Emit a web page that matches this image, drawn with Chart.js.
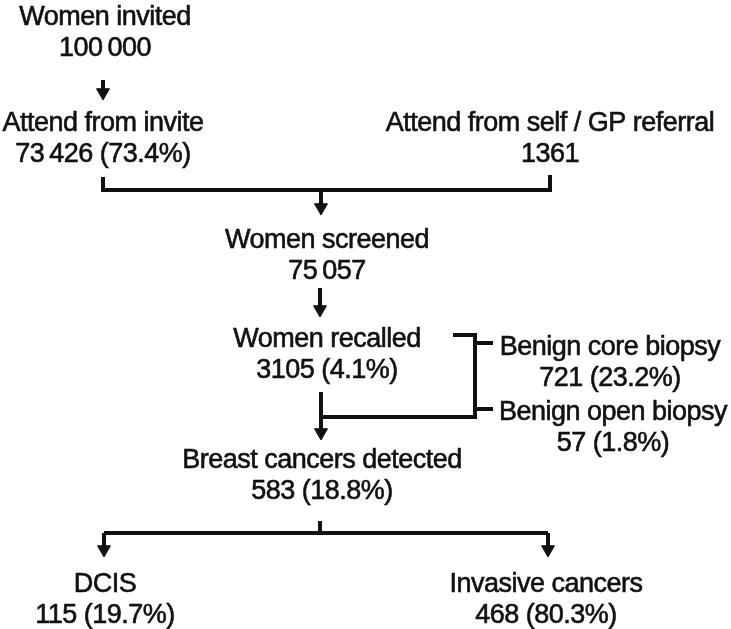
<!DOCTYPE html>
<html>
<head>
<meta charset="utf-8">
<title>Screening flow</title>
<script src="https://cdn.jsdelivr.net/npm/chart.js@4/dist/chart.umd.min.js"></script>
<style>
  html, body { margin: 0; padding: 0; background: #fff; }
  #wrap { width: 731px; height: 629px; }
</style>
</head>
<body>
<div id="wrap"><canvas id="flowChart" width="731" height="629"></canvas></div>
<script>
// data
const stages = ['Women invited', 'Attend from invite', 'Attend from self / GP referral', 'Women screened',
  'Women recalled', 'Benign core biopsy', 'Benign open biopsy', 'Breast cancers detected', 'DCIS', 'Invasive cancers'];
const counts = [100000, 73426, 1361, 75057, 3105, 721, 57, 583, 115, 468];
const percents = [null, 73.4, null, null, 4.1, 23.2, 1.8, 18.8, 19.7, 80.3];

// layout (pixel units of the 731 x 629 plot, y measured from the top)
const nodeX = [105, 103, 550, 327, 327, 610, 613, 322, 105, 546];
const nodeY = [25, 131, 131, 248, 347, 355, 420, 468, 592, 592];
const lineGap = 31;

// connectors, each one a polyline
const connectors = [
  [[103, 177], [103, 190], [550, 190], [550, 175]],
  [[453, 335], [475, 335], [475, 417], [321, 417]],
  [[475, 343], [493, 343]],
  [[475, 409], [493, 409]],
  [[320, 521], [320, 533]],
  [[104, 533], [548, 533]]
];
// arrows: x, start y, tip y
const arrows = [
  [103, 80, 100],
  [321, 190, 215],
  [320, 288, 317],
  [321, 392, 440],
  [104, 533, 557],
  [548, 533, 557]
];

const headR = 7.5;

function fmtCount(n) {
  if (n < 10000) return String(n);
  return String(n).replace(/\B(?=(\d{3})+(?!\d))/g, '\u2009');
}

function valueLine(i) {
  let s = fmtCount(counts[i]);
  if (percents[i] != null) s += ' (' + percents[i].toFixed(1) + '%)';
  return s;
}

const datasets = [];
connectors.forEach(pts => {
  datasets.push({
    type: 'line',
    data: pts.map(p => ({ x: p[0], y: p[1] })),
    borderColor: '#111',
    borderWidth: 4,
    pointRadius: 0,
    fill: false,
    tension: 0
  });
});
arrows.forEach(a => {
  datasets.push({
    type: 'line',
    data: [{ x: a[0], y: a[1] }, { x: a[0], y: a[2] - headR }],
    borderColor: '#111',
    borderWidth: 4,
    pointRadius: 0,
    fill: false
  });
});
datasets.push({
  type: 'scatter',
  data: arrows.map(a => ({ x: a[0], y: a[2] - headR })),
  pointStyle: 'triangle',
  rotation: 180,
  pointRadius: headR,
  backgroundColor: '#111',
  borderColor: '#111',
  borderWidth: 1
});

const labelPlugin = {
  id: 'stageLabels',
  afterDatasetsDraw(chart) {
    const { ctx, scales } = chart;
    ctx.save();
    ctx.fillStyle = '#111';
    ctx.strokeStyle = '#111';
    ctx.lineWidth = 0.6;
    ctx.font = '27px "Liberation Sans", Arial, sans-serif';
    ctx.letterSpacing = '-0.5px';
    ctx.textAlign = 'center';
    ctx.textBaseline = 'alphabetic';
    stages.forEach((name, i) => {
      const x = scales.x.getPixelForValue(nodeX[i]);
      const y1 = scales.y.getPixelForValue(nodeY[i]);
      const y2 = scales.y.getPixelForValue(nodeY[i] + lineGap);
      const val = valueLine(i);
      ctx.fillText(name, x, y1);
      ctx.strokeText(name, x, y1);
      ctx.fillText(val, x, y2);
      ctx.strokeText(val, x, y2);
    });
    ctx.restore();
  }
};

const ctx = document.getElementById('flowChart').getContext('2d');
const flowChart = new Chart(ctx, {
  type: 'scatter',
  data: { datasets: datasets },
  options: {
    responsive: false,
    animation: false,
    layout: { padding: 0, autoPadding: false },
    plugins: { legend: { display: false }, tooltip: { enabled: false } },
    scales: {
      x: { type: 'linear', min: 0, max: 731, display: false },
      y: { type: 'linear', min: 0, max: 629, reverse: true, display: false }
    }
  },
  plugins: [labelPlugin]
});
</script>
</body>
</html>
